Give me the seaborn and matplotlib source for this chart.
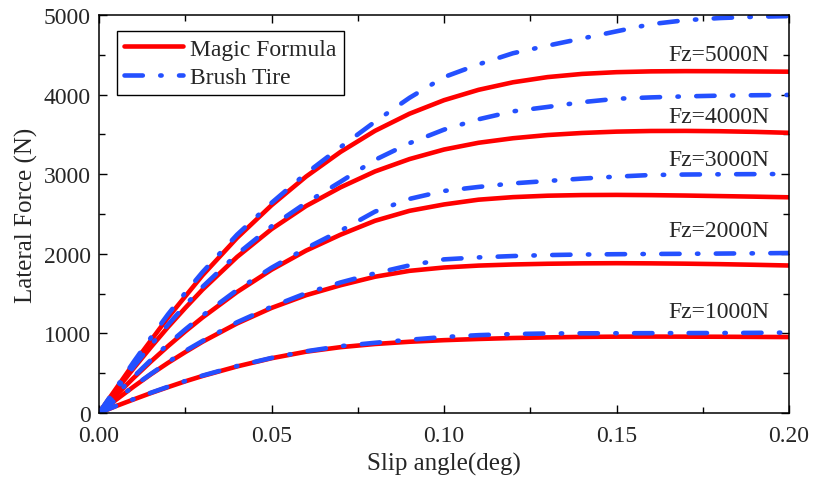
"""
Lateral force vs slip angle: Magic Formula against Brush Tire model
for five vertical loads.
"""

import pandas as pd
import seaborn as sns
import matplotlib.pyplot as plt
from matplotlib.ticker import MultipleLocator

sns.set_style('ticks')
plt.rcParams['font.family'] = ['Liberation Serif', 'DejaVu Serif']

# Data

Slip = [0, 0.005, 0.01, 0.015, 0.02, 0.025, 0.03, 0.04, 0.05, 0.06, 0.07, 0.08,
        0.09, 0.10, 0.11, 0.12, 0.13, 0.14, 0.15, 0.16, 0.17, 0.18, 0.19, 0.20]

Loads = [1000, 2000, 3000, 4000, 5000]

MagicFormula = {
    1000: [0, 88, 170, 250, 325, 398, 465, 585, 688, 770, 827, 867,
           895, 915, 930, 942, 950, 956, 959, 960, 959, 958, 956, 954],
    2000: [0, 168, 330, 485, 630, 765, 895, 1125, 1320, 1480, 1605, 1712,
           1786, 1828, 1852, 1866, 1875, 1880, 1882, 1880, 1876, 1870, 1862, 1853],
    3000: [0, 225, 440, 645, 840, 1025, 1200, 1520, 1800, 2040, 2240, 2415,
           2540, 2620, 2680, 2712, 2730, 2738, 2740, 2737, 2732, 2725, 2718, 2710],
    4000: [0, 285, 560, 825, 1080, 1320, 1550, 1960, 2310, 2600, 2835, 3035,
           3190, 3310, 3395, 3452, 3492, 3518, 3535, 3543, 3544, 3540, 3532, 3520],
    5000: [0, 310, 620, 910, 1200, 1465, 1730, 2200, 2610, 2970, 3280, 3545,
           3760, 3930, 4060, 4155, 4220, 4260, 4282, 4292, 4295, 4294, 4291, 4288],
}

BrushTire = {
    1000: [0, 90, 174, 254, 330, 402, 470, 590, 692, 775, 840, 882,
           920, 955, 978, 992, 999, 1001, 1002, 1003, 1004, 1005, 1007, 1010],
    2000: [0, 170, 335, 490, 640, 780, 905, 1140, 1335, 1505, 1640, 1755,
           1855, 1930, 1955, 1972, 1984, 1991, 1995, 1998, 2000, 2003, 2006, 2010],
    3000: [0, 232, 455, 665, 865, 1050, 1225, 1545, 1825, 2070, 2290, 2530,
           2690, 2790, 2840, 2885, 2915, 2945, 2970, 2990, 2996, 2999, 3001, 3003],
    4000: [0, 295, 580, 850, 1110, 1355, 1585, 1995, 2345, 2640, 2905, 3180,
           3390, 3560, 3690, 3790, 3845, 3905, 3948, 3965, 3978, 3987, 3992, 3996],
    5000: [0, 320, 640, 945, 1240, 1510, 1770, 2240, 2640, 3010, 3340, 3660,
           3960, 4220, 4380, 4520, 4615, 4705, 4795, 4885, 4935, 4962, 4978, 4986],
}

LabelY = {5000: 4500, 4000: 3730, 3000: 3180, 2000: 2290, 1000: 1270}

RedColor = '#ff0000'
BlueColor = '#2450ff'
DashDot = (0, (4.0, 3.8, 0.3, 3.8))

# Long form table

Rows = []
for Fz in Loads:
    for s, mf, bt in zip(Slip, MagicFormula[Fz], BrushTire[Fz]):
        Rows.append({'Slip': s, 'Fz': Fz, 'Model': 'Magic Formula', 'Force': mf})
        Rows.append({'Slip': s, 'Fz': Fz, 'Model': 'Brush Tire', 'Force': bt})
df = pd.DataFrame(Rows)

# Plot

fig, ax = plt.subplots(figsize=(8.13, 4.81), dpi=100)
fig.subplots_adjust(left=0.1218, right=0.9705, bottom=0.1393, top=0.9667)

for Fz in Loads:
    d = df[(df['Fz'] == Fz) & (df['Model'] == 'Magic Formula')]
    sns.lineplot(data=d, x='Slip', y='Force', ax=ax, color=RedColor,
                 linewidth=3.3, estimator=None, solid_capstyle='butt')

for Fz in Loads:
    d = df[(df['Fz'] == Fz) & (df['Model'] == 'Brush Tire')]
    sns.lineplot(data=d, x='Slip', y='Force', ax=ax, color=BlueColor,
                 linewidth=3.3, estimator=None, linestyle=DashDot,
                 dash_capstyle='round')

for Fz in Loads:
    ax.text(0.1942, LabelY[Fz], 'Fz={}N'.format(Fz), ha='right', va='center',
            fontsize=17)

# Axes styling

ax.set_xlim(0, 0.20)
ax.set_ylim(0, 5000)
ax.xaxis.set_major_locator(MultipleLocator(0.05))
ax.xaxis.set_minor_locator(MultipleLocator(0.025))
ax.yaxis.set_major_locator(MultipleLocator(1000))
ax.yaxis.set_minor_locator(MultipleLocator(500))
ax.xaxis.set_major_formatter(plt.FuncFormatter(lambda v, p: '{:.2f}'.format(v)))

ax.tick_params(which='both', direction='in', top=True, right=True,
               width=1, labelsize=17, color='black')
ax.tick_params(which='major', length=6)
ax.tick_params(which='minor', length=4)
ax.tick_params(axis='x', pad=9)
ax.tick_params(axis='y', pad=6)

for sp in ax.spines.values():
    sp.set_linewidth(1.1)
    sp.set_color('black')

ax.set_xlabel('Slip angle(deg)', fontsize=18, labelpad=4)
ax.set_ylabel('Lateral Force (N)', fontsize=18, labelpad=4)

Handles = [plt.Line2D([], [], color=RedColor, linewidth=3.3),
           plt.Line2D([], [], color=BlueColor, linewidth=3.3, linestyle=DashDot,
                      dash_capstyle='round')]
leg = ax.legend(Handles, ['Magic Formula', 'Brush Tire'], loc='upper left',
                bbox_to_anchor=(0.026, 0.96), fontsize=17, frameon=True,
                fancybox=False, edgecolor='black', handlelength=2.5,
                handletextpad=0.3, labelspacing=0.3, borderpad=0.3,
                borderaxespad=0)
leg.get_frame().set_linewidth(1.0)
leg.get_frame().set_alpha(1)

plt.savefig('out.png', dpi=100)
